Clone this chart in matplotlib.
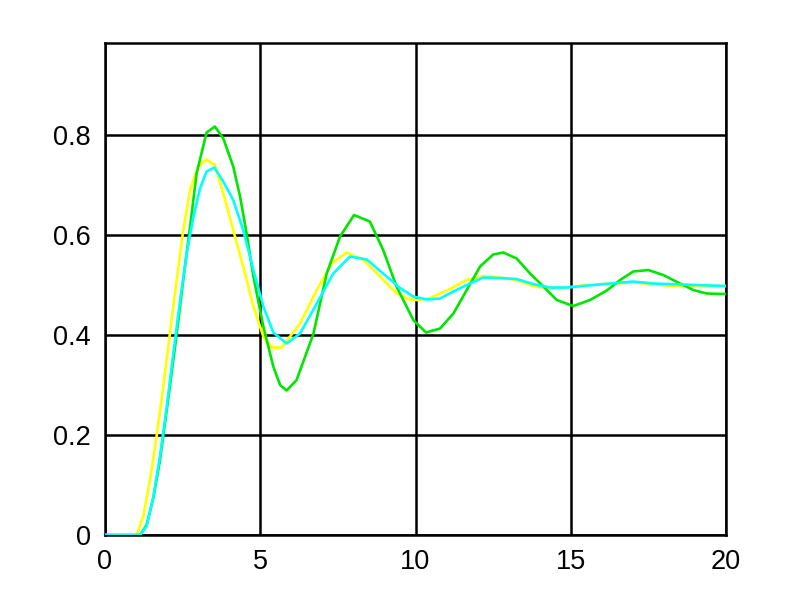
import matplotlib
matplotlib.use("Agg")
import matplotlib.pyplot as plt

# Yellow series
yellow_x = [0, 1.02, 1.23, 1.45, 1.66, 1.88, 2.09, 2.31, 2.52, 2.74, 3.0, 3.27, 3.54, 3.81, 4.13,
            4.45, 4.78, 5.1, 5.37, 5.69, 6.28, 6.82, 7.3, 7.78, 8.32, 8.86, 9.39, 9.82, 10.04, 10.47,
            11.11, 11.65, 12.18, 12.72, 13.26, 13.79, 14.33, 14.87, 15.51, 16.37, 17.01, 17.66,
            18.3, 19.16, 20]
yellow_y = [0, 0, 0.037, 0.11, 0.197, 0.297, 0.403, 0.51, 0.61, 0.69, 0.737, 0.751, 0.74, 0.683, 0.61,
            0.537, 0.457, 0.397, 0.375, 0.375, 0.423, 0.49, 0.543, 0.565, 0.55, 0.517, 0.483, 0.471, 0.47, 0.474,
            0.492, 0.51, 0.518, 0.515, 0.51, 0.498, 0.493, 0.495, 0.5, 0.503, 0.505, 0.502,
            0.498, 0.498, 0.498]

# Cyan series
cyan_x = [0, 1.13, 1.34, 1.56, 1.77, 1.99, 2.2, 2.42, 2.63, 2.85, 3.06, 3.27, 3.52, 3.81, 4.13,
          4.45, 4.78, 5.1, 5.42, 5.85, 6.28, 6.82, 7.35, 7.89, 8.43, 8.96, 9.5, 9.93, 10.36, 10.79,
          11.22, 11.65, 12.18, 12.72, 13.26, 13.79, 14.33, 14.87, 15.73, 17.01, 17.66, 18.62, 20]
cyan_y = [0, 0, 0.017, 0.077, 0.157, 0.257, 0.363, 0.47, 0.563, 0.637, 0.693, 0.727, 0.735, 0.707, 0.67,
          0.61, 0.53, 0.457, 0.405, 0.383, 0.403, 0.463, 0.523, 0.557, 0.551, 0.523, 0.494, 0.477, 0.471, 0.473,
          0.487, 0.5, 0.515, 0.514, 0.512, 0.502, 0.495, 0.495, 0.5, 0.507, 0.503, 0.501, 0.498]

# Green series
green_x = [0, 1.13, 1.34, 1.56, 1.77, 1.88, 2.09, 2.31, 2.52, 2.74, 2.95, 3.27, 3.54, 3.81, 4.13,
           4.35, 4.56, 4.78, 5.1, 5.42, 5.64, 5.85, 6.17, 6.71, 7.14, 7.57, 8.02, 8.53, 8.96, 9.39,
           9.93, 10.34, 10.79, 11.22, 11.65, 12.08, 12.5, 12.83, 13.26, 13.69, 14.12, 14.55, 15.08,
           15.62, 16.16, 16.59, 17.01, 17.5, 17.98, 18.52, 18.95, 19.38, 20]
green_y = [0, 0, 0.02, 0.075, 0.15, 0.2, 0.297, 0.403, 0.51, 0.617, 0.723, 0.805, 0.817, 0.793, 0.737,
           0.677, 0.603, 0.517, 0.417, 0.337, 0.3, 0.289, 0.31, 0.402, 0.523, 0.597, 0.64, 0.627, 0.57, 0.497,
           0.43, 0.405, 0.413, 0.443, 0.49, 0.537, 0.561, 0.565, 0.553, 0.523, 0.497, 0.47, 0.458,
           0.47, 0.489, 0.51, 0.527, 0.53, 0.52, 0.503, 0.49, 0.483, 0.482]

x_ticks = [0, 5, 10, 15, 20]
y_ticks = [0, 0.2, 0.4, 0.6, 0.8]
y_labels = ["0", "0.2", "0.4", "0.6", "0.8"]

plt.rcParams['font.family'] = ['Liberation Sans', 'DejaVu Sans']

fig = plt.figure(figsize=(8, 6), dpi=100)
ax = fig.add_axes([0.13125, 0.1083, 0.77625, 0.82])

ax.plot(yellow_x, yellow_y, color='#FFFF00', lw=1.9, zorder=3)
ax.plot(green_x, green_y, color='#00E600', lw=1.9, zorder=4)
ax.plot(cyan_x, cyan_y, color='#00FFFF', lw=1.9, zorder=5)

ax.set_xlim(0, 20)
ax.set_ylim(0, 0.984)
ax.set_xticks(x_ticks)
ax.set_xticklabels([str(v) for v in x_ticks])
ax.set_yticks(y_ticks)
ax.set_yticklabels(y_labels)
ax.grid(True, color='black', lw=1.8, zorder=1)
ax.set_axisbelow(True)
ax.tick_params(length=0, labelsize=19.5, pad=10)
for s in ax.spines.values():
    s.set_color('black')
    s.set_linewidth(1.8)

fig.savefig('out.png', dpi=100)
